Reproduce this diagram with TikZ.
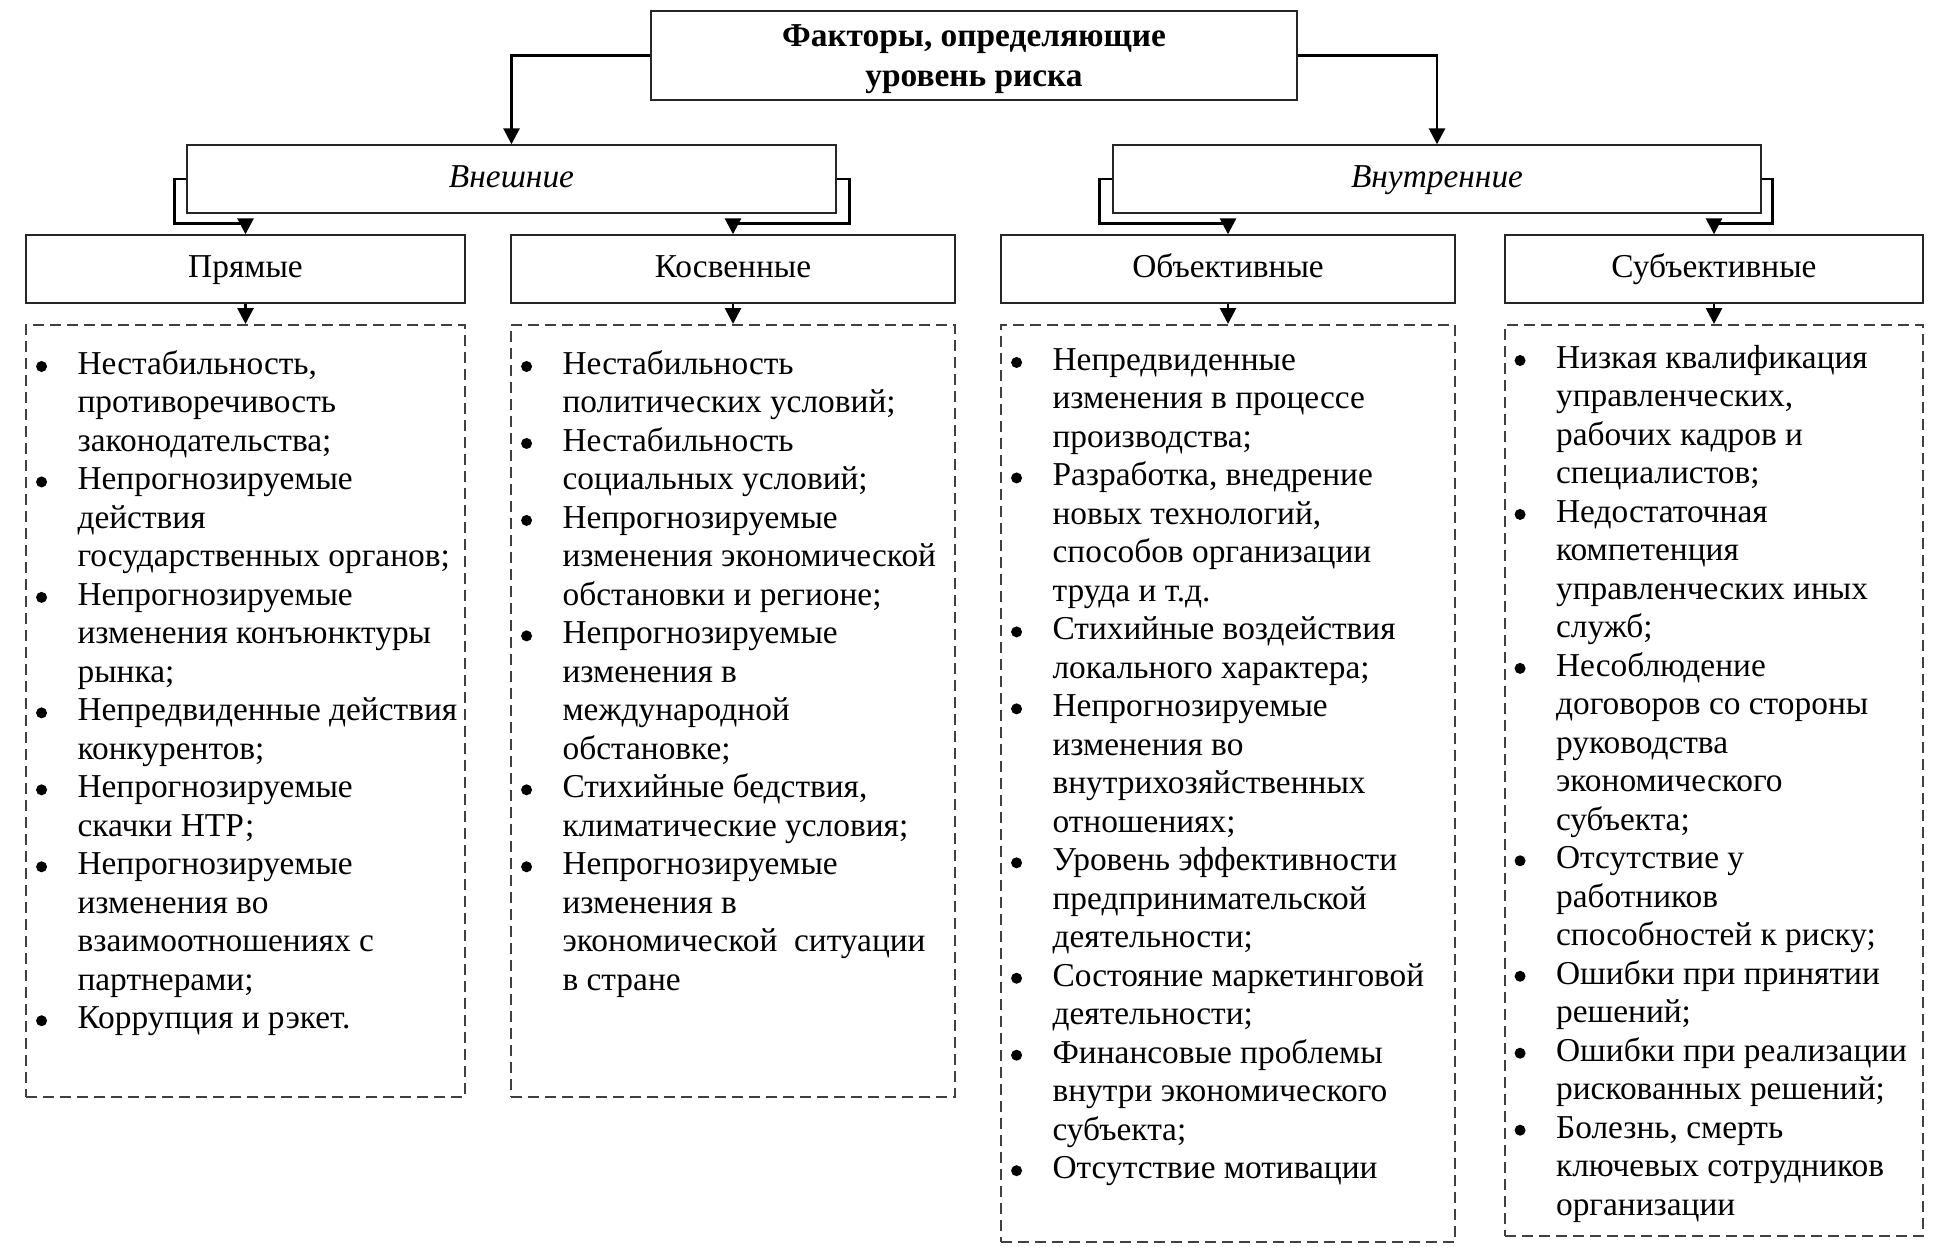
\documentclass[tikz,border=0pt]{standalone}
\usepackage{fontspec}
\setmainfont{Liberation Serif}
\usepackage{tikz}
\usetikzlibrary{arrows.meta, positioning}

\newcommand{\bul}{\tikz[baseline=-0.16cm]\fill (0,0) circle (0.11cm);}

\begin{document}
\begin{tikzpicture}[
    box/.style={rectangle, draw=black!85, line width=0.8pt, minimum height=1.36cm, align=center, inner sep=0pt, font=\fontsize{19}{22.4}\selectfont},
    head/.style={box, text height=0.48cm, text depth=0.14cm},
    listbox/.style={rectangle, draw=black!75, line width=0.9pt, dash pattern=on 0.22cm off 0.12cm, inner sep=0pt, anchor=north},
    listtext/.style={anchor=base west, inner sep=0pt, font=\fontsize{19}{21.9}\selectfont},
    arrow/.style={-{Triangle[length=0.32cm, width=0.32cm]}, line width=1.6pt}
]
    \useasboundingbox (0,0) rectangle (38.98,-25.06);

    % header row
    \node[box, minimum width=12.92cm, minimum height=1.78cm, font=\fontsize{19}{22.6}\selectfont\bfseries] (title) at (19.48,-1.11) {\rule{0pt}{0.58cm}Факторы, определяющие\\уровень риска};

    \node[head, minimum width=12.98cm, font=\fontsize{19}{22.4}\selectfont\itshape] (ext) at (10.23,-3.58) {Внешние};
    \node[head, minimum width=12.96cm, font=\fontsize{19}{22.4}\selectfont\itshape] (int) at (28.74,-3.58) {Внутренние};

    \node[head, minimum width=8.78cm] (pr)  at (4.91,-5.38)  {Прямые};
    \node[head, minimum width=8.88cm] (kos) at (14.66,-5.38) {Косвенные};
    \node[head, minimum width=9.08cm] (obj) at (24.56,-5.38) {Объективные};
    \node[head, minimum width=8.36cm] (sub) at (34.28,-5.38) {Субъективные};

    % dashed lists
    \node[listbox, minimum width=8.78cm, minimum height=15.44cm] (prl)  at (4.91,-6.48)  {};
    \node[listbox, minimum width=8.88cm, minimum height=15.44cm] (kosl) at (14.66,-6.48) {};
    \node[listbox, minimum width=9.08cm, minimum height=18.34cm] (objl) at (24.56,-6.48) {};
    \node[listbox, minimum width=8.36cm, minimum height=18.22cm] (subl) at (34.28,-6.48) {};

    \node[listtext] (prt) at ([xshift=0.21cm, yshift=-1.01cm]prl.north west) {%
        \begin{tabular}[t]{@{}p{0.83cm}@{}l@{}}
        \bul & Нестабильность,\\
             & противоречивость\\
             & законодательства;\\
        \bul & Непрогнозируемые\\
             & действия\\
             & государственных органов;\\
        \bul & Непрогнозируемые\\
             & изменения конъюнктуры\\
             & рынка;\\
        \bul & Непредвиденные действия\\
             & конкурентов;\\
        \bul & Непрогнозируемые\\
             & скачки НТР;\\
        \bul & Непрогнозируемые\\
             & изменения во\\
             & взаимоотношениях с\\
             & партнерами;\\
        \bul & Коррупция и рэкет.
        \end{tabular}};

    \node[listtext] (kost) at ([xshift=0.21cm, yshift=-1.01cm]kosl.north west) {%
        \begin{tabular}[t]{@{}p{0.83cm}@{}l@{}}
        \bul & Нестабильность\\
             & политических условий;\\
        \bul & Нестабильность\\
             & социальных условий;\\
        \bul & Непрогнозируемые\\
             & изменения экономической\\
             & обстановки и регионе;\\
        \bul & Непрогнозируемые\\
             & изменения в\\
             & международной\\
             & обстановке;\\
        \bul & Стихийные бедствия,\\
             & климатические условия;\\
        \bul & Непрогнозируемые\\
             & изменения в\\
             & экономической\ \ ситуации\\
             & в стране
        \end{tabular}};

    \node[listtext] (objt) at ([xshift=0.21cm, yshift=-0.93cm]objl.north west) {%
        \begin{tabular}[t]{@{}p{0.83cm}@{}l@{}}
        \bul & Непредвиденные\\
             & изменения в процессе\\
             & производства;\\
        \bul & Разработка, внедрение\\
             & новых технологий,\\
             & способов организации\\
             & труда и т.д.\\
        \bul & Стихийные воздействия\\
             & локального характера;\\
        \bul & Непрогнозируемые\\
             & изменения во\\
             & внутрихозяйственных\\
             & отношениях;\\
        \bul & Уровень эффективности\\
             & предпринимательской\\
             & деятельности;\\
        \bul & Состояние маркетинговой\\
             & деятельности;\\
        \bul & Финансовые проблемы\\
             & внутри экономического\\
             & субъекта;\\
        \bul & Отсутствие мотивации
        \end{tabular}};

    \node[listtext] (subt) at ([xshift=0.2cm, yshift=-0.89cm]subl.north west) {%
        \begin{tabular}[t]{@{}p{0.83cm}@{}l@{}}
        \bul & Низкая квалификация\\
             & управленческих,\\
             & рабочих кадров и\\
             & специалистов;\\
        \bul & Недостаточная\\
             & компетенция\\
             & управленческих иных\\
             & служб;\\
        \bul & Несоблюдение\\
             & договоров со стороны\\
             & руководства\\
             & экономического\\
             & субъекта;\\
        \bul & Отсутствие у\\
             & работников\\
             & способностей к риску;\\
        \bul & Ошибки при принятии\\
             & решений;\\
        \bul & Ошибки при реализации\\
             & рискованных решений;\\
        \bul & Болезнь, смерть\\
             & ключевых сотрудников\\
             & организации
        \end{tabular}};

    % connectors
    \draw[arrow] (title.west) -| (ext.north);
    \draw[arrow] (title.east) -| (int.north);

    \draw[arrow] (ext.west) -- ++(-0.24,0) |- ([yshift=0.22cm]pr.north) -- (pr.north);
    \draw[arrow] (ext.east) -- ++(0.26,0) |- ([yshift=0.22cm]kos.north) -- (kos.north);
    \draw[arrow] (int.west) -- ++(-0.26,0) |- ([yshift=0.22cm]obj.north) -- (obj.north);
    \draw[arrow] (int.east) -- ++(0.22,0) |- ([yshift=0.22cm]sub.north) -- (sub.north);

    \draw[arrow] (pr.south) -- (prl.north);
    \draw[arrow] (kos.south) -- (kosl.north);
    \draw[arrow] (obj.south) -- (objl.north);
    \draw[arrow] (sub.south) -- (subl.north);
\end{tikzpicture}
\end{document}
